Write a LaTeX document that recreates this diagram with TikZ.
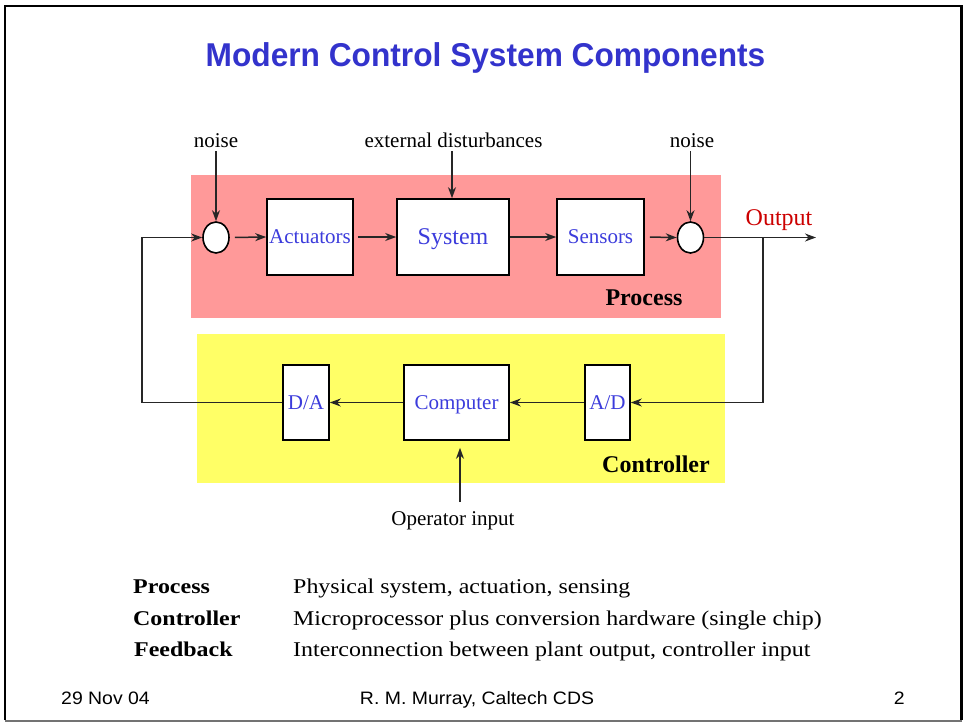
\documentclass[tikz,border=0pt]{standalone}
\usepackage{fontspec}
\setmainfont{Liberation Serif}
\setsansfont{Liberation Sans}
\newfontfamily\titlefont{Liberation Sans}[FakeStretch=0.96]
\newfontfamily\footfont{Liberation Sans}[FakeStretch=1.08]
\newfontfamily\rowfont{Liberation Serif}[FakeStretch=1.14]
\usetikzlibrary{arrows.meta,shapes.geometric}

\definecolor{procpink}{RGB}{255,153,153}
\definecolor{ctrlyellow}{RGB}{255,255,102}
\definecolor{blocktext}{RGB}{60,60,220}
\definecolor{titleblue}{RGB}{51,51,204}
\definecolor{outred}{RGB}{204,0,0}

\tikzset{
  blk/.style={draw=black, fill=white, line width=1.6pt, inner sep=0pt,
    text depth=0pt, text=blocktext, font=\fontsize{21}{24}\selectfont},
  sumpt/.style={ellipse, draw=black, fill=white, line width=1.6pt,
    minimum width=26pt, minimum height=31pt, inner sep=0pt},
  wire/.style={draw=black!85, line width=1.5pt},
  arr/.style={wire, -{Stealth[length=11pt, width=8pt, inset=3.5pt]}},
  lbl/.style={inner sep=0pt, anchor=base, font=\fontsize{21}{24}\selectfont},
  grp/.style={inner sep=0pt, anchor=base, font=\fontsize{24}{28}\selectfont\bfseries},
  rowterm/.style={inner sep=0pt, anchor=base west, font=\rowfont\fontsize{21}{24}\selectfont\bfseries},
  rowtext/.style={inner sep=0pt, anchor=base west, font=\rowfont\fontsize{21}{24}\selectfont},
  foot/.style={inner sep=0pt, anchor=base, font=\footfont\fontsize{18}{20}\selectfont},
}

\begin{document}
\begin{tikzpicture}[x=1pt, y=-1pt]
\useasboundingbox (0,0) rectangle (964,723);

% slide frame
\draw[line width=2.8pt] (5,720) -- (5,6) -- (961.5,6) -- (961.5,720);
\draw[black!55, line width=2pt] (5,720.5) -- (961.5,720.5);

% title
\node[inner sep=0pt, anchor=base, text=titleblue,
  font=\titlefont\fontsize{33}{38}\selectfont\bfseries] (title) at (485.5,66)
  {Modern Control System Components};

% shaded groups
\fill[procpink] (191,175) rectangle (721,318);
\fill[ctrlyellow] (197,334) rectangle (725,483);
\node[grp] (proclbl) at (644,305) {Process};
\node[grp] (ctrllbl) at (656,472.5) {Controller};

% process chain
\node[sumpt] (sum1) at (216,237.5) {};
\node[blk, minimum width=86pt, minimum height=76pt] (act) at (310,237) {Actuators};
\node[blk, minimum width=112pt, minimum height=76pt, font=\fontsize{24}{28}\selectfont] (sys) at (453,237) {System};
\node[blk, minimum width=87pt, minimum height=76pt] (sen) at (600.5,237) {Sensors};
\node[sumpt] (sum2) at (690.5,237.5) {};

% controller chain
\node[blk, minimum width=46pt, minimum height=75pt] (da) at (306,402.5) {D/A};
\node[blk, minimum width=105pt, minimum height=75pt] (comp) at (456.5,402.5) {Computer};
\node[blk, minimum width=45pt, minimum height=75pt] (ad) at (607.5,402.5) {A/D};

% external inputs
\node[lbl] (noise1) at (216,147) {noise};
\node[lbl] (dist) at (453.5,147.5) {external disturbances};
\node[lbl] (noise2) at (692,147) {noise};
\node[lbl, text=outred, font=\fontsize{24}{28}\selectfont] (outlbl) at (779,225) {Output};
\node[lbl] (opin) at (453,525) {Operator input};

\coordinate (n1top) at (216,151);
\coordinate (n2top) at (690.5,151);
\coordinate (disttop) at (452,151);
\coordinate (optail) at (460,502);
\coordinate (outend) at (816,237.5);
\coordinate (tap) at (763,237.5);
\coordinate (fbcorner) at (142,237.5);

% signal flow
\draw[arr] (n1top) -- (sum1.north);
\draw[arr] (disttop) -- (disttop |- sys.north);
\draw[arr] (n2top) -- (sum2.north);
\draw[arr, shorten <=5pt] (sum1.east) -- (act.west);
\draw[arr, shorten <=4pt] (act.east) -- (sys.west);
\draw[arr] (sys.east) -- (sen.west);
\draw[arr, shorten <=5pt] (sen.east) -- (sum2.west);
\draw[arr] (sum2.east) -- (outend);

% feedback path
\draw[arr] (tap) |- (ad.east);
\draw[arr] (ad.west) -- (comp.east);
\draw[arr] (comp.west) -- (da.east);
\draw[arr] (da.west) -| (fbcorner) -- (sum1.west);
\draw[arr, shorten >=7pt] (optail) -- (optail |- comp.south);

% summary rows
\node[rowterm] (t1) at (133,593) {Process};
\node[rowtext] (d1) at (293,593) {Physical system, actuation, sensing};
\node[rowterm] (t2) at (133,625) {Controller};
\node[rowtext] (d2) at (293,625) {Microprocessor plus conversion hardware (single chip)};
\node[rowterm] (t3) at (134,656.5) {Feedback};
\node[rowtext] (d3) at (293,656.5) {Interconnection between plant output, controller input};

% footer
\node[foot, anchor=base west] (date) at (61,704) {29 Nov 04};
\node[foot] (author) at (477,704) {R. M. Murray, Caltech CDS};
\node[foot, anchor=base east] (page) at (905,704) {2};
\end{tikzpicture}
\end{document}
